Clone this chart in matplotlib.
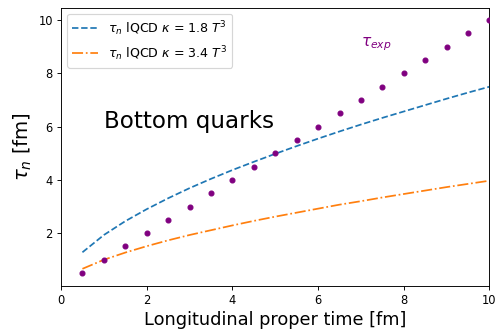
import matplotlib
matplotlib.use("Agg")
import matplotlib.pyplot as plt

t = [0.5, 1.0, 1.5, 2.0, 2.5, 3.0, 3.5, 4.0, 4.5, 5.0, 5.5, 6.0, 6.5, 7.0, 7.5, 8.0, 8.5, 9.0, 9.5, 10.0]
tau_k18 = [1.28, 1.93, 2.45, 2.90, 3.31, 3.69, 4.04, 4.37, 4.68, 4.98, 5.27, 5.55, 5.82, 6.08, 6.33, 6.57, 6.81, 7.05, 7.28, 7.50]
tau_k34 = [0.66, 1.00, 1.27, 1.51, 1.73, 1.93, 2.11, 2.29, 2.46, 2.62, 2.77, 2.92, 3.07, 3.20, 3.34, 3.47, 3.60, 3.73, 3.85, 3.97]
tau_exp = [0.5, 1.0, 1.5, 2.0, 2.5, 3.0, 3.5, 4.0, 4.5, 5.0, 5.5, 6.0, 6.5, 7.0, 7.5, 8.0, 8.5, 9.0, 9.5, 10.0]

DPI = 83
fig = plt.figure(figsize=(498 / DPI, 330 / DPI), dpi=DPI)
ax = fig.add_axes([0.1225, 0.1342, 0.8604, 0.843])

ax.plot(t, tau_k18, '--', color='C0', label=r'$\tau_n$ lQCD $\kappa$ = 1.8 $T^3$')
ax.plot(t, tau_k34, '-.', color='C1', label=r'$\tau_n$ lQCD $\kappa$ = 3.4 $T^3$')
ax.scatter(t, tau_exp, s=18, color='purple', zorder=3)

ax.set_xlim(0, 10)
ax.set_xlabel('Longitudinal proper time [fm]', fontsize=15.4)
ax.set_ylabel(r'$\tau_n$ [fm]', fontsize=17)
ax.text(1.0, 6.18, 'Bottom quarks', fontsize=20, va='center')
ax.text(7.0, 9.08, r'$\tau_{exp}$', fontsize=13.3, color='purple', va='center')
ax.legend(loc='upper left', fontsize=11)

fig.savefig('out.png', dpi=DPI)
